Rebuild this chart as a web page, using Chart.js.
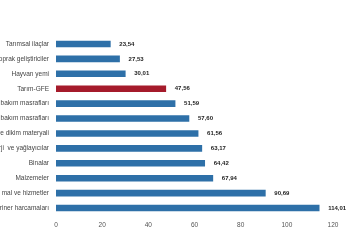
<!DOCTYPE html>
<html lang="tr">
<head>
    <meta charset="UTF-8">
    <title>Tarım-GFE</title>
    <style>
        html, body { margin: 0; padding: 0; background: #fff; }
        #wrap { position: relative; width: 350px; height: 250px; }
    </style>
</head>
<body>
    <div id="wrap"><canvas id="myChart"></canvas></div>
    <script src="https://cdn.jsdelivr.net/npm/chart.js"></script>
    <script>
        const kalemler = ['Tarımsal ilaçlar', 'Gübre ve toprak geliştiriciler', 'Hayvan yemi', 'Tarım-GFE',
            'Bina bakım masrafları', 'Makine bakım masrafları', 'Tohum ve dikim materyali',
            'Enerji  ve yağlayıcılar', 'Binalar', 'Malzemeler', 'Diğer mal ve hizmetler', 'Veteriner harcamaları']
        const degerler = [23.54, 27.53, 30.01, 47.56, 51.59, 57.60, 61.56, 63.17, 64.42, 67.94, 90.69, 114.01]
        const xTikler = [0, 20, 40, 60, 80, 100, 120]

        const renkler = kalemler.map(k => k === 'Tarım-GFE' ? '#a51b2b' : '#2e70a8')

        const degerEtiketi = {
            id: 'degerEtiketi',
            afterDatasetsDraw(chart) {
                const ctx = chart.ctx
                const meta = chart.getDatasetMeta(0)
                ctx.save()
                ctx.font = 'bold 6px "Liberation Sans", Arial, sans-serif'
                ctx.fillStyle = '#222'
                ctx.textBaseline = 'middle'
                meta.data.forEach((bar, i) => {
                    ctx.fillText(degerler[i].toFixed(2).replace('.', ','), bar.x + 9, bar.y)
                })
                ctx.restore()
            }
        }

        const ctx = document.getElementById('myChart')
        const myChart = new Chart(ctx, {
            type: 'bar',
            data: {
                labels: kalemler,
                datasets: [{
                    data: degerler,
                    backgroundColor: renkler,
                    barThickness: 6
                }]
            },
            options: {
                indexAxis: 'y',
                responsive: true,
                maintainAspectRatio: false,
                animation: false,
                layout: { padding: { top: 36.5, right: 17, bottom: 14.5, left: 0 } },
                plugins: { legend: { display: false }, tooltip: { enabled: false } },
                scales: {
                    x: {
                        min: 0,
                        max: 120,
                        afterBuildTicks: s => { s.ticks = xTikler.map(v => ({ value: v })) },
                        afterFit: s => { s.height = 20 },
                        grid: { display: false, drawTicks: false },
                        border: { display: false },
                        ticks: {
                            color: '#555',
                            padding: 6,
                            font: { size: 6.5, family: '"Liberation Sans", Arial, sans-serif' }
                        }
                    },
                    y: {
                        afterFit: s => { s.width = 56 },
                        grid: { display: false, drawTicks: false },
                        border: { display: false },
                        ticks: {
                            color: '#444',
                            padding: 7,
                            font: { size: 6.5, family: '"Liberation Sans", Arial, sans-serif' }
                        }
                    }
                }
            },
            plugins: [degerEtiketi]
        })
    </script>
</body>
</html>
